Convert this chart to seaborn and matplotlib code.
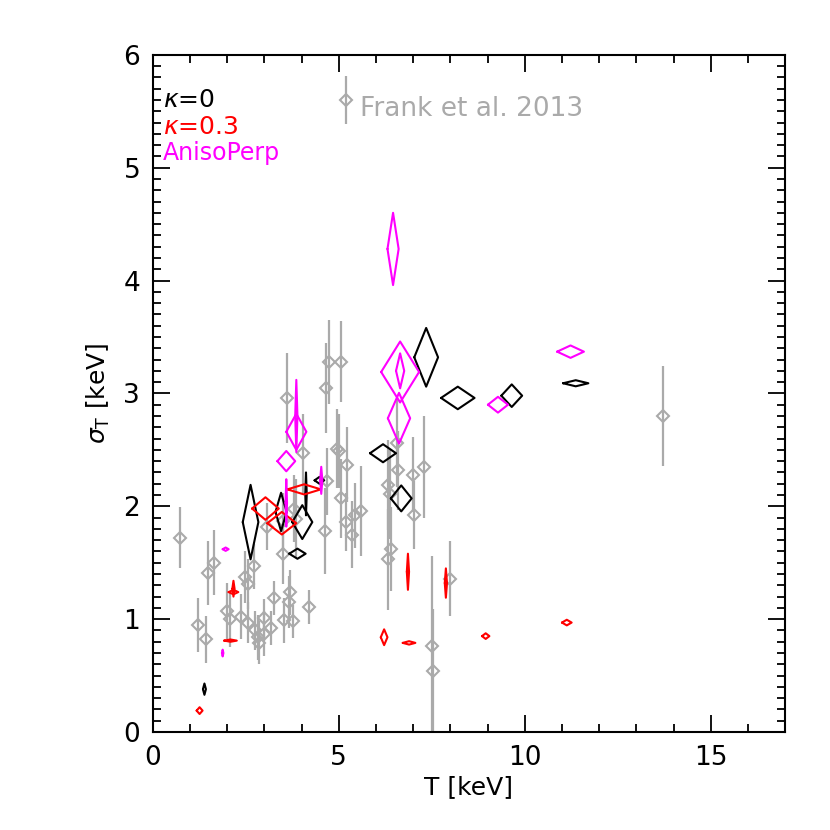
import numpy as np
import pandas as pd
import matplotlib
matplotlib.use("Agg")
import matplotlib.pyplot as plt
from matplotlib.legend_handler import HandlerErrorbar
import seaborn as sns

# Frank et al. 2013 (gray points with vertical error bars)
frank_T = [0.72, 1.23, 1.42, 1.48, 1.66, 2.01, 2.09, 2.36, 2.49, 2.55,
           2.55, 2.73, 2.76, 2.82, 2.87, 2.98, 2.98, 3.06, 3.19, 3.27,
           3.49, 3.54, 3.65, 3.70, 3.78, 3.86, 4.21, 3.62, 4.05, 4.96,
           4.69, 5.07, 4.74, 5.07, 4.66, 5.01, 5.22, 5.19, 5.36, 5.44,
           5.61, 4.64, 6.57, 6.60, 7.00, 7.30, 6.33, 6.38, 7.02, 6.40,
           6.33, 7.99, 7.51, 7.53, 13.72, 3.81, 3.49]
frank_sig = [1.72, 0.95, 0.82, 1.41, 1.50, 1.07, 1.00, 1.02, 1.37, 1.31,
             0.97, 1.47, 0.90, 0.84, 0.79, 1.01, 0.87, 1.82, 0.92, 1.19,
             1.58, 0.99, 1.15, 1.24, 0.98, 1.89, 1.11, 2.96, 2.47, 2.51,
             2.22, 2.07, 3.28, 3.28, 3.05, 2.49, 2.37, 1.86, 1.75, 1.92,
             1.96, 1.78, 2.56, 2.32, 2.28, 2.35, 2.19, 2.11, 1.92, 1.62,
             1.53, 1.36, 0.76, 0.54, 2.80, 1.98, 1.87]
frank_err = [0.27, 0.24, 0.21, 0.28, 0.29, 0.25, 0.25, 0.20, 0.23, 0.22,
             0.18, 0.20, 0.17, 0.20, 0.19, 0.17, 0.20, 0.21, 0.15, 0.15,
             0.27, 0.20, 0.23, 0.20, 0.15, 0.35, 0.15, 0.40, 0.35, 0.35,
             0.30, 0.35, 0.37, 0.36, 0.40, 0.33, 0.33, 0.26, 0.30, 0.29,
             0.40, 0.38, 0.39, 0.35, 0.33, 0.45, 0.40, 0.40, 0.30, 0.37,
             0.45, 0.33, 0.80, 0.55, 0.44, 0.30, 0.25]

# kappa = 0 (black)
k0_T = [1.39, 2.63, 3.45, 4.02, 3.89, 4.12, 4.48, 6.19, 6.68, 7.35, 8.20, 9.65, 11.37]
k0_sig = [0.38, 1.86, 1.95, 1.86, 1.58, 2.11, 2.23, 2.47, 2.07, 3.32, 2.96, 2.98, 3.09]
k0_dT = [0.04, 0.21, 0.15, 0.27, 0.22, 0.02, 0.13, 0.35, 0.28, 0.32, 0.45, 0.28, 0.34]
k0_dsig = [0.05, 0.33, 0.17, 0.15, 0.045, 0.19, 0.03, 0.08, 0.115, 0.26, 0.10, 0.10, 0.027]

# kappa = 0.3 (red)
k3_T = [1.26, 2.09, 2.17, 2.17, 3.03, 3.47, 4.07, 6.22, 6.89, 6.86, 7.88, 8.95, 11.13]
k3_sig = [0.19, 0.81, 1.27, 1.24, 1.98, 1.85, 2.15, 0.84, 0.79, 1.42, 1.32, 0.85, 0.97]
k3_dT = [0.08, 0.17, 0.03, 0.13, 0.36, 0.39, 0.45, 0.09, 0.17, 0.03, 0.03, 0.10, 0.13]
k3_dsig = [0.03, 0.01, 0.07, 0.02, 0.10, 0.10, 0.045, 0.07, 0.015, 0.16, 0.13, 0.025, 0.025]

# AnisoPerp (magenta)
ap_T = [1.88, 1.96, 3.59, 3.86, 3.86, 3.59, 4.53, 6.46, 6.65, 6.65, 6.62, 9.28, 11.23]
ap_sig = [0.70, 1.62, 2.40, 2.66, 2.80, 2.03, 2.23, 4.28, 3.19, 3.20, 2.78, 2.90, 3.37]
ap_dT = [0.02, 0.08, 0.24, 0.27, 0.03, 0.02, 0.03, 0.15, 0.51, 0.11, 0.30, 0.27, 0.36]
ap_dsig = [0.03, 0.015, 0.09, 0.16, 0.32, 0.21, 0.12, 0.32, 0.27, 0.155, 0.225, 0.07, 0.055]

sns.set_style("ticks")
plt.rcParams['font.family'] = ['DejaVu Sans']
plt.rcParams['mathtext.fontset'] = 'dejavusans'
for key in ['text.color', 'axes.labelcolor', 'xtick.color', 'ytick.color',
            'xtick.labelcolor', 'ytick.labelcolor']:
    plt.rcParams[key] = 'black'

fig = plt.figure(figsize=(8.3, 8.3), dpi=100)
ax = fig.add_axes([0.184, 0.118, 0.762, 0.816])

gray = '#aaaaaa'
frank = pd.DataFrame({'T': frank_T, 'sig': frank_sig, 'err': frank_err})
cont = ax.errorbar(frank['T'], frank['sig'], yerr=frank['err'], fmt='D', ms=6,
                   mfc='none', mec=gray, mew=1.5, ecolor=gray, elinewidth=1.6,
                   capsize=0, zorder=1)


def diamonds(T, sig, dT, dsig, color):
    for x, y, dx, dy in zip(T, sig, dT, dsig):
        xs = [x - dx, x, x + dx, x, x - dx]
        ys = [y, y + dy, y, y - dy, y]
        ax.plot(xs, ys, color=color, lw=1.5, zorder=3)


diamonds(k0_T, k0_sig, k0_dT, k0_dsig, 'black')
diamonds(k3_T, k3_sig, k3_dT, k3_dsig, 'red')
diamonds(ap_T, ap_sig, ap_dT, ap_dsig, 'magenta')

ax.set_xlim(0, 17)
ax.set_ylim(0, 6)
ax.set_xticks([0, 5, 10, 15])
ax.set_xticks(np.arange(0, 17.01, 1), minor=True)
ax.set_yticks(np.arange(0, 7, 1))
ax.set_yticks(np.arange(0, 6.01, 0.1), minor=True)
ax.tick_params(which='both', direction='in', top=True, right=True,
               labelsize=19, width=1.3, color='black', pad=9)
ax.tick_params(which='major', length=12)
ax.tick_params(which='minor', length=6)
for sp in ax.spines.values():
    sp.set_linewidth(1.5)
    sp.set_color('black')

ax.set_xlabel('T [keV]', fontsize=18, labelpad=3)
ax.set_ylabel(r'$\sigma_{\rm T}$ [keV]', fontsize=18, labelpad=8)

ax.text(0.016, 0.933, r'$\kappa$=0', color='black', fontsize=18,
        transform=ax.transAxes, va='center')
ax.text(0.016, 0.894, r'$\kappa$=0.3', color='red', fontsize=18,
        transform=ax.transAxes, va='center')
ax.text(0.016, 0.855, 'AnisoPerp', color='magenta', fontsize=17,
        transform=ax.transAxes, va='center')

leg = ax.legend(handles=[cont], labels=['Frank et al. 2013'], frameon=False,
                loc='center left', bbox_to_anchor=(0.255, 0.922),
                handlelength=0.6, handleheight=2.4, handletextpad=0.25,
                fontsize=19, labelcolor=gray,
                handler_map={type(cont): HandlerErrorbar(yerr_size=0.9)})

fig.savefig('out.png', dpi=100)
